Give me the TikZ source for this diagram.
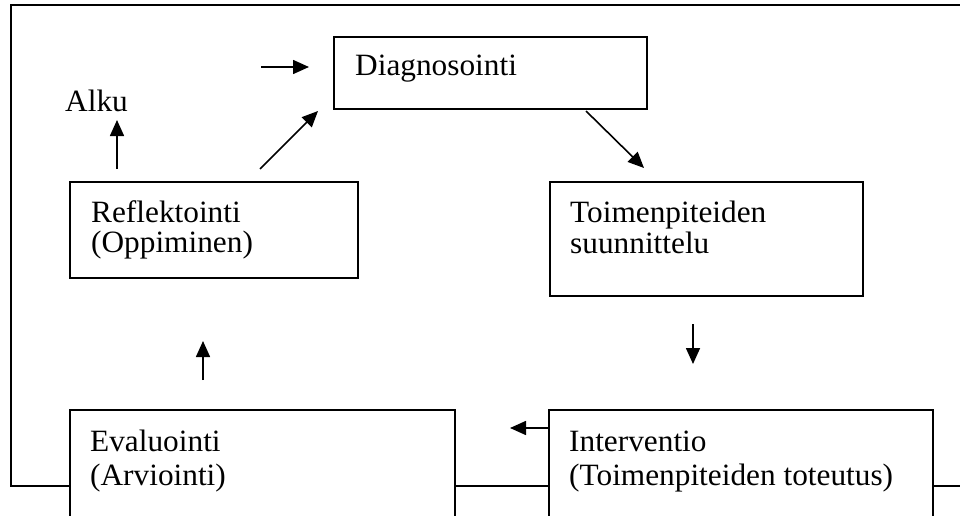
\documentclass[tikz,border=0pt]{standalone}
\usepackage{fontspec}
\setmainfont[FakeStretch=1.01]{Liberation Serif}
\usetikzlibrary{arrows.meta}
\begin{document}
\begin{tikzpicture}[x=1pt,y=-1pt,
  frame/.style={line width=1.8pt},
  stage/.style={draw, line width=1.8pt, rectangle, inner sep=0pt},
  txt/.style={inner sep=0pt, anchor=base west, font=\fontsize{31}{35}\selectfont},
  flow/.style={line width=1.6pt, -{Triangle[length=16pt,width=14pt]}}]
\clip (0,0) rectangle (960,516);
\fill[white] (0,0) rectangle (960,516);

% stage boxes (corner to corner)
\node[stage, minimum width=313pt, minimum height=72pt, anchor=north west] (diag) at (333,36) {};
\node[stage, minimum width=288pt, minimum height=96pt, anchor=north west] (refl) at (69,181) {};
\node[stage, minimum width=313pt, minimum height=114pt, anchor=north west] (plan) at (549,181) {};
\node[stage, minimum width=385pt, minimum height=140pt, anchor=north west] (eval) at (69,409) {};
\node[stage, minimum width=384pt, minimum height=140pt, anchor=north west] (interv) at (548,409) {};

% labels
\node[txt] (diagT) at (355,76) {Diagnosointi};
\node[txt] (alku) at (65,112) {Alku};
\node[txt] (reflA) at (91,222) {Reflektointi};
\node[txt] (reflB) at (91,252) {(Oppiminen)};
\node[txt] (planA) at (570,222) {Toimenpiteiden};
\node[txt] (planB) at (570,253) {suunnittelu};
\node[txt] (evalA) at (90,451) {Evaluointi};
\node[txt] (evalB) at (90,485) {(Arviointi)};
\node[txt] (intA) at (569,451) {Interventio};
\node[txt] (intB) at (569,485) {(Toimenpiteiden toteutus)};

% outer frame linking the lower boxes
\coordinate (fTR) at (965,5);
\coordinate (fTL) at (11,5);
\coordinate (fBL) at (11,486);
\coordinate (fBR) at (965,486);
\draw[frame] (fTR) -- (fTL) -- (fBL) -- (eval.west |- fBL);
\draw[frame] (eval.east |- fBL) -- (interv.west |- fBL);
\draw[frame] (interv.east |- fBL) -- (fBR);

% arrows of the cycle
\coordinate (s1) at (261,67);  \coordinate (e1) at (309,67);
\coordinate (s2) at (260,169); \coordinate (e2) at (318,111);
\coordinate (s3) at (586,111); \coordinate (e3) at (644,168);
\coordinate (s4) at (693,324); \coordinate (e4) at (693,364);
\coordinate (e5) at (510,428);
\coordinate (s6) at (203,380); \coordinate (e6) at (203,341);
\coordinate (s7) at (117,169); \coordinate (e7) at (117,120);
\draw[flow] (s1) -- (e1);
\draw[flow] (s2) -- (e2);
\draw[flow] (s3) -- (e3);
\draw[flow] (s4) -- (e4);
\draw[flow] (interv.west |- e5) -- (e5);
\draw[flow] (s6) -- (e6);
\draw[flow] (s7) -- (e7);
\end{tikzpicture}
\end{document}
